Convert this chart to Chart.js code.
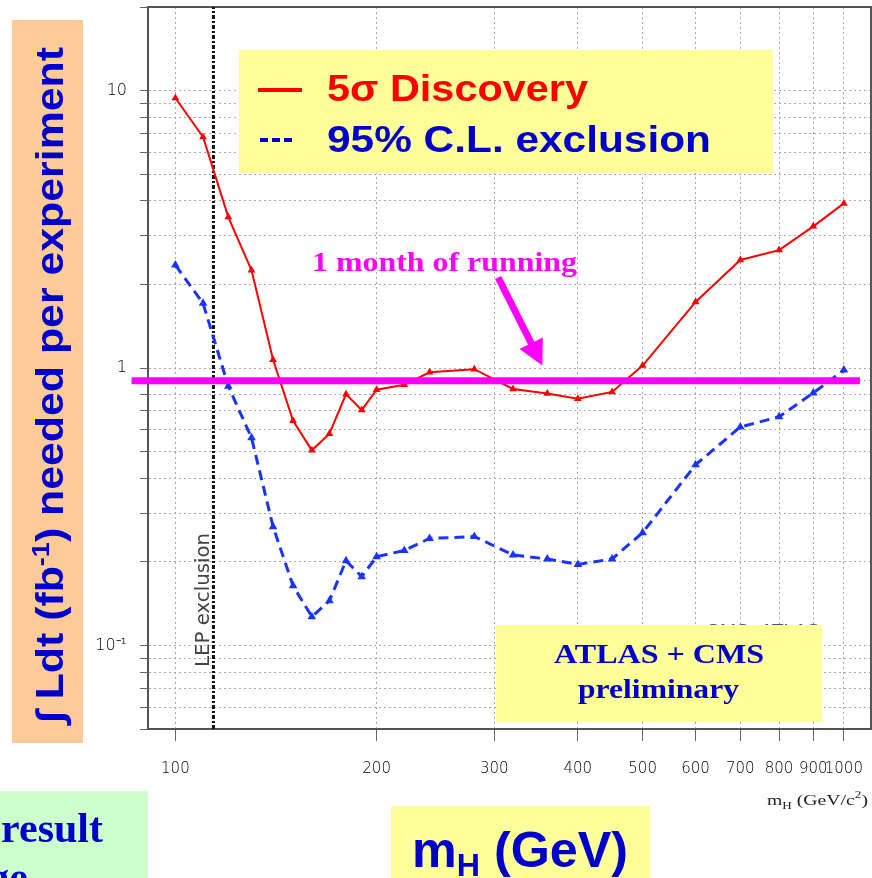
<!DOCTYPE html>
<html lang="en">
  <head>
    <meta charset="UTF-8" />
    <title>Luminosity needed for Higgs discovery</title>
    <style>
      html, body { margin: 0; padding: 0; background: #fff; }
      canvas { display: block; }
    </style>
  </head>
  <body>
    <canvas id="lumiChart" width="872" height="878"></canvas>

    <script src="https://cdn.jsdelivr.net/npm/chart.js@4.4.1/dist/chart.umd.min.js"></script>

    <!-- Luminosity per experiment vs Higgs mass -->
    <script>
      var masses = [100, 110, 120, 130, 140, 150, 160, 170, 180, 190, 200, 220,
                    240, 280, 320, 360, 400, 450, 500, 600, 700, 800, 900, 1000];
      // 5 sigma discovery (fb-1)
      var discovery = [9.4, 6.8, 3.5, 2.25, 1.07, 0.645, 0.505, 0.58, 0.805, 0.705, 0.835, 0.87,
                       0.965, 0.99, 0.84, 0.81, 0.775, 0.82, 1.02, 1.73, 2.45, 2.66, 3.24, 3.92];
      // 95% C.L. exclusion (fb-1)
      var exclusion = [2.35, 1.71, 0.86, 0.56, 0.268, 0.164, 0.127, 0.145, 0.202, 0.177, 0.209, 0.22,
                       0.243, 0.247, 0.212, 0.205, 0.196, 0.205, 0.255, 0.448, 0.613, 0.667, 0.813, 0.983];

      var xTicks = [100, 200, 300, 400, 500, 600, 700, 800, 900, 1000];
      var yMajor = [0.1, 1, 10];
      var yMajorLabels = ["10\u207B\u00B9", "1", "10"];

      var lepLimit = 114;          // GeV
      var oneMonth = 0.9;          // fb-1 collected in one month
      var oneMonthSpan = [86, 1057];
      var arrowFrom = [304, 2.12];
      var arrowTo = [354, 1.02];
    </script>

    <script>
      var yGrid = [];
      [0.01, 0.1, 1, 10].forEach(function (d) {
        for (var k = 1; k <= 9; k++) {
          var v = k === 1 ? d : +(k * d).toPrecision(3);
          if (v >= 0.05 && v <= 20) yGrid.push(v);
        }
      });

      function points(ys) {
        return masses.map(function (m, i) { return { x: m, y: ys[i] }; });
      }

      // draw a list of text runs, squeezed/stretched to a given width
      function drawRuns(ctx, runs, x, y, width, style) {
        var total = 0;
        runs.forEach(function (r) {
          ctx.font = style.weight + " " + r.size + "px " + style.family;
          r.w = ctx.measureText(r.t).width;
          total += r.w;
        });
        var sx = width ? width / total : 1;
        ctx.save();
        ctx.translate(x, y);
        ctx.scale(sx, 1);
        ctx.fillStyle = style.color;
        ctx.textBaseline = "alphabetic";
        ctx.textAlign = "left";
        var cx = 0;
        runs.forEach(function (r) {
          ctx.font = style.weight + " " + r.size + "px " + style.family;
          ctx.fillText(r.t, cx, -(r.rise || 0));
          cx += r.w;
        });
        ctx.restore();
      }

      var SANS = "'Liberation Sans', Arial, sans-serif";
      var SERIF = "'Liberation Serif', 'Times New Roman', serif";
      var BLUE = "#0000cc";
      var MAGENTA = "#ff00ff";

      var framePlugin = {
        id: "frame",
        beforeDatasetsDraw: function (chart) {
          var a = chart.chartArea, ctx = chart.ctx;
          ctx.save();
          ctx.strokeStyle = "#555";
          ctx.lineWidth = 2;
          ctx.strokeRect(a.left, a.top, a.right - a.left, a.bottom - a.top);
          ctx.restore();
        }
      };

      var overlayPlugin = {
        id: "overlay",
        afterDraw: function (chart) {
          var ctx = chart.ctx;
          var xs = chart.scales.x, ys = chart.scales.y;

          // LEP exclusion text next to the line
          ctx.save();
          ctx.translate(xs.getPixelForValue(lepLimit) - 4, 667);
          ctx.rotate(-Math.PI / 2);
          drawRuns(ctx, [{ t: "LEP exclusion", size: 19 }], 0, 0, 134,
            { family: "'DejaVu Sans', sans-serif", weight: "normal", color: "#444" });
          ctx.restore();

          // arrow pointing at the one-month line
          var x0 = xs.getPixelForValue(arrowFrom[0]), y0 = ys.getPixelForValue(arrowFrom[1]);
          var x1 = xs.getPixelForValue(arrowTo[0]), y1 = ys.getPixelForValue(arrowTo[1]);
          var ang = Math.atan2(y1 - y0, x1 - x0);
          var c = Math.cos(ang), s = Math.sin(ang);
          var headLen = 25, headHalf = 13;
          var bx = x1 - headLen * c, by = y1 - headLen * s;
          ctx.save();
          ctx.strokeStyle = MAGENTA;
          ctx.fillStyle = MAGENTA;
          ctx.lineWidth = 7;
          ctx.beginPath();
          ctx.moveTo(x0, y0);
          ctx.lineTo(bx + 2 * c, by + 2 * s);
          ctx.stroke();
          ctx.beginPath();
          ctx.moveTo(x1, y1);
          ctx.lineTo(bx + headHalf * s, by - headHalf * c);
          ctx.lineTo(bx - headHalf * s, by + headHalf * c);
          ctx.closePath();
          ctx.fill();
          ctx.restore();

          drawRuns(ctx, [{ t: "1 month of running", size: 28 }], 312, 271, 265,
            { family: SERIF, weight: "bold", color: MAGENTA });

          // old label peeking out above the yellow box
          drawRuns(ctx, [{ t: "CMS+ATLAS", size: 15 }], 706, 634, 114,
            { family: SANS, weight: "normal", color: "#555" });

          // ATLAS + CMS box
          ctx.fillStyle = "#ffff99";
          ctx.fillRect(496, 625, 326, 97);
          drawRuns(ctx, [{ t: "ATLAS + CMS", size: 27 }], 554, 663, 210,
            { family: SERIF, weight: "bold", color: BLUE });
          drawRuns(ctx, [{ t: "preliminary", size: 27 }], 578, 698, 161,
            { family: SERIF, weight: "bold", color: BLUE });

          // legend box
          ctx.fillStyle = "#ffff99";
          ctx.fillRect(239, 50, 534, 123);
          ctx.fillStyle = "#ff0000";
          ctx.fillRect(258, 88, 44, 4);
          drawRuns(ctx, [{ t: "5\u03C3 Discovery", size: 36 }], 327, 101, 261,
            { family: SANS, weight: "bold", color: "#ff0000" });
          ctx.fillStyle = BLUE;
          for (var i = 0; i < 3; i++) ctx.fillRect(260 + i * 12, 138, 8, 4);
          drawRuns(ctx, [{ t: "95% C.L. exclusion", size: 37 }], 327, 152, 384,
            { family: SANS, weight: "bold", color: BLUE });

          // y axis title box
          ctx.fillStyle = "#fdcb98";
          ctx.fillRect(12, 20, 71, 723);
          ctx.save();
          ctx.translate(63, 723);
          ctx.rotate(-Math.PI / 2);
          drawRuns(ctx, [
            { t: "\u222B Ldt (fb", size: 38 },
            { t: "-1", size: 24, rise: 14 },
            { t: ") needed per experiment", size: 38 }
          ], 0, 0, 676, { family: SANS, weight: "bold", color: BLUE });
          ctx.restore();

          // small axis title under the frame
          drawRuns(ctx, [
            { t: "m", size: 15 },
            { t: "H", size: 10, rise: -4 },
            { t: " (GeV/c", size: 15 },
            { t: "2", size: 10, rise: 7 },
            { t: ")", size: 15 }
          ], 767, 805, 101, { family: SERIF, weight: "normal", color: "#222" });

          // bottom boxes
          ctx.fillStyle = "#ccffcc";
          ctx.fillRect(0, 791, 148, 87);
          ctx.save();
          ctx.font = "bold 42px " + SERIF;
          ctx.fillStyle = BLUE;
          ctx.textAlign = "right";
          ctx.fillText("result", 103, 842);
          ctx.fillText("ge", 28, 891);
          ctx.restore();

          ctx.fillStyle = "#ffff99";
          ctx.fillRect(391, 806, 259, 72);
          drawRuns(ctx, [
            { t: "m", size: 50 },
            { t: "H", size: 32, rise: -9 },
            { t: " (GeV)", size: 50 }
          ], 412, 867, 216, { family: SANS, weight: "bold", color: BLUE });
        }
      };

      var tickFont = { family: "'DejaVu Sans', sans-serif", size: 15, weight: "200" };

      new Chart(document.getElementById("lumiChart"), {
        type: "line",
        data: {
          datasets: [
            {
              label: "1 month",
              data: [{ x: oneMonthSpan[0], y: oneMonth }, { x: oneMonthSpan[1], y: oneMonth }],
              borderColor: MAGENTA,
              borderWidth: 7,
              pointRadius: 0,
              clip: false
            },
            {
              label: "5 sigma discovery",
              data: points(discovery),
              borderColor: "#ff0000",
              borderWidth: 2,
              pointStyle: "triangle",
              pointRadius: 4.5,
              pointBackgroundColor: "#ff0000",
              pointBorderColor: "#ff0000",
              pointBorderWidth: 0
            },
            {
              label: "95% CL exclusion",
              data: points(exclusion),
              borderColor: "#1a33ff",
              borderWidth: 3,
              borderDash: [10, 6],
              pointStyle: "triangle",
              pointRadius: 5,
              pointBackgroundColor: "#1a33ff",
              pointBorderColor: "#1a33ff",
              pointBorderWidth: 0
            },
            {
              label: "LEP",
              data: [{ x: lepLimit, y: 0.05 }, { x: lepLimit, y: 20 }],
              borderColor: "#111",
              borderWidth: 3,
              borderDash: [4, 2, 2, 2],
              pointRadius: 0
            }
          ]
        },
        options: {
          responsive: false,
          animation: false,
          devicePixelRatio: 1,
          layout: { autoPadding: false, padding: { left: 0, top: 7, right: 1, bottom: 0 } },
          elements: { line: { tension: 0 } },
          plugins: { legend: { display: false }, tooltip: { enabled: false } },
          scales: {
            x: {
              type: "logarithmic",
              min: 91,
              max: 1098,
              afterBuildTicks: function (scale) {
                scale.ticks = xTicks.map(function (v) { return { value: v }; });
              },
              afterFit: function (scale) {
                scale.height = 149;
                scale.paddingLeft = 0;
                scale.paddingRight = 0;
              },
              ticks: {
                autoSkip: false,
                maxRotation: 0,
                padding: 0,
                color: "#000",
                // tall line box pushes the labels down below the tick marks
                font: { family: tickFont.family, size: 15, weight: "200", lineHeight: 3.75 },
                callback: function (v) { return String(v); }
              },
              grid: {
                color: "#aaa",
                lineWidth: 1,
                tickLength: 12,
                tickColor: "#666",
                tickBorderDash: []
              },
              border: { display: true, color: "#555", width: 2, dash: [2, 3] }
            },
            y: {
              type: "logarithmic",
              min: 0.05,
              max: 20,
              afterBuildTicks: function (scale) {
                scale.ticks = yGrid.map(function (v) { return { value: v }; });
              },
              afterFit: function (scale) {
                scale.width = 148;
                scale.paddingTop = 0;
                scale.paddingBottom = 0;
              },
              ticks: {
                autoSkip: false,
                padding: 13,
                color: "#000",
                font: { family: tickFont.family, size: 16, weight: "200" },
                callback: function (v) {
                  var i = yMajor.indexOf(v);
                  return i < 0 ? "" : yMajorLabels[i];
                }
              },
              grid: {
                color: "#aaa",
                lineWidth: 1,
                tickLength: 8,
                tickColor: "#666",
                tickBorderDash: []
              },
              border: { display: true, color: "#555", width: 2, dash: [2, 3] }
            }
          }
        },
        plugins: [framePlugin, overlayPlugin]
      });
    </script>
  </body>
</html>
